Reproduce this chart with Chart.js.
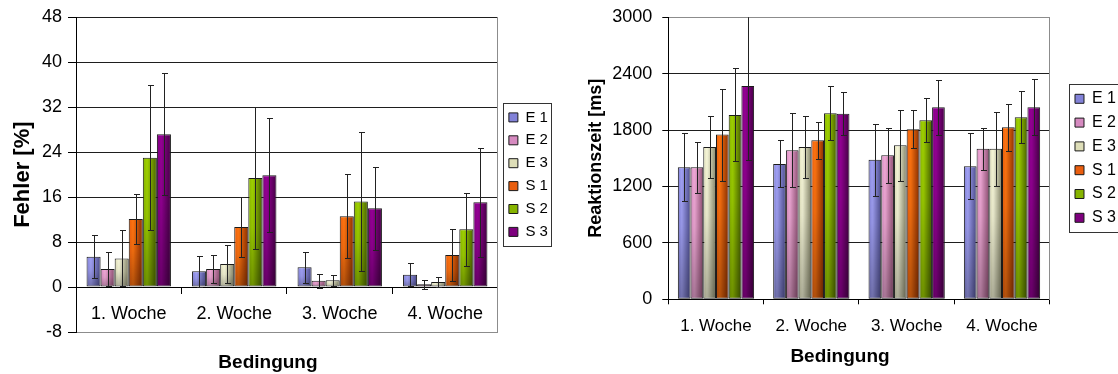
<!DOCTYPE html>
<html>
<head>
<meta charset="utf-8">
<script src="https://cdn.jsdelivr.net/npm/chart.js@4.4.1/dist/chart.umd.min.js"></script>
<style>
  html, body { margin: 0; padding: 0; background: #fff; width: 1118px; height: 374px; overflow: hidden; }
  .panel { position: absolute; top: 0; height: 374px; width: 560px; }
  #panelFehler { left: 0; }
  #panelZeit { left: 558px; }
</style>
</head>
<body>
<div class="panel" id="panelFehler"><canvas id="fehler" width="560" height="374"></canvas></div>
<div class="panel" id="panelZeit"><canvas id="zeit" width="560" height="374"></canvas></div>
<script>
// ---- data ----------------------------------------------------------------
const weeks = ['1. Woche', '2. Woche', '3. Woche', '4. Woche'];
const groups = ['E 1', 'E 2', 'E 3', 'S 1', 'S 2', 'S 3'];

// error rate [%] per group, mean and standard deviation
const fehlerE1 = [5.4, 2.8, 3.5, 2.2];
const fehlerE2 = [3.2, 3.2, 1.1, 0.5];
const fehlerE3 = [5.1, 4.1, 1.2, 0.9];
const fehlerS1 = [12.1, 10.7, 12.6, 5.7];
const fehlerS2 = [23.0, 19.4, 15.2, 10.3];
const fehlerS3 = [27.2, 19.9, 14.0, 15.1];
const fehlerSdE1 = [3.8, 2.8, 2.7, 2.0];
const fehlerSdE2 = [3.1, 2.5, 1.2, 0.8];
const fehlerSdE3 = [5.0, 3.4, 1.0, 0.9];
const fehlerSdS1 = [4.4, 5.3, 7.5, 4.6];
const fehlerSdS2 = [12.9, 12.6, 12.4, 6.5];
const fehlerSdS3 = [10.9, 10.1, 7.4, 9.7];
const fehlerTicks = [-8, 0, 8, 16, 24, 32, 40, 48];

// reaction time [ms] per group, mean and standard deviation
const zeitE1 = [1404, 1440, 1485, 1415];
const zeitE2 = [1404, 1585, 1532, 1602];
const zeitE3 = [1621, 1621, 1638, 1602];
const zeitS1 = [1752, 1691, 1809, 1830];
const zeitS2 = [1961, 1979, 1904, 1936];
const zeitS3 = [2270, 1974, 2043, 2043];
const zeitSdE1 = [362, 250, 381, 351];
const zeitSdE2 = [272, 392, 291, 224];
const zeitSdE3 = [333, 333, 376, 392];
const zeitSdS1 = [490, 200, 202, 250];
const zeitSdS2 = [495, 287, 234, 275];
const zeitSdS3 = [788, 231, 293, 300];
const zeitTicks = [0, 600, 1200, 1800, 2400, 3000];

// ---- styling ---------------------------------------------------------------
// [mid, light, dark] shade per group
const shades = [
  ['#8282d8', '#a2a2f6', '#4c4c8c'],
  ['#d68ac0', '#f2aad8', '#8e4e72'],
  ['#dedeb8', '#f8f8da', '#86866a'],
  ['#ea5e0e', '#ff7410', '#8a2e00'],
  ['#86b400', '#a0d200', '#486200'],
  ['#7e007e', '#960096', '#440044']
];
const CAT_PCT = 0.8;
const FONT = '"Liberation Sans", Arial, Helvetica, sans-serif';
Chart.defaults.font.family = FONT;
Chart.defaults.color = '#000';

// shaded fill: light-to-dark across the bar, darkening towards its base
function barFill(idx) {
  const s = shades[idx];
  return (c) => {
    if (c.type !== 'data') return s[0];
    const xs = c.chart.scales.x, ys = c.chart.scales.y;
    if (!xs || !ys) return s[0];
    const n = c.chart.data.datasets.length;
    const cat = xs.getPixelForValue(1) - xs.getPixelForValue(0);
    const w = cat * CAT_PCT / n;
    const cx = xs.getPixelForValue(c.dataIndex) + (c.datasetIndex - (n - 1) / 2) * w;
    const yv = ys.getPixelForValue(c.raw), yb = ys.getPixelForValue(0);
    if (![cx, w, yv, yb].every(isFinite) || w <= 0) return s[0];
    const top = Math.min(yv, yb), h = Math.max(Math.abs(yb - yv), 1);
    const off = document.createElement('canvas');
    off.width = Math.ceil(w) + 4;
    off.height = Math.ceil(h) + 4;
    const o = off.getContext('2d');
    const gh = o.createLinearGradient(2, 0, 2 + w, 0);
    gh.addColorStop(0, s[0]);
    gh.addColorStop(0.3, s[1]);
    gh.addColorStop(1, s[2]);
    o.fillStyle = gh;
    o.fillRect(0, 0, off.width, off.height);
    const gv = o.createLinearGradient(0, 2, 0, 2 + h);
    gv.addColorStop(0, 'rgba(0,0,0,0)');
    gv.addColorStop(0.45, 'rgba(0,0,0,0.06)');
    gv.addColorStop(1, 'rgba(0,0,0,0.3)');
    o.fillStyle = gv;
    o.fillRect(0, 0, off.width, off.height);
    const pat = c.chart.ctx.createPattern(off, 'no-repeat');
    pat.setTransform(new DOMMatrix([1, 0, 0, 1, cx - w / 2 - 2, top - 2]));
    return pat;
  };
}

function makeDatasets(means, sds) {
  return groups.map((name, i) => ({
    label: name,
    data: means[i],
    errors: sds[i],
    backgroundColor: barFill(i),
    borderColor: '#1a1a1a',
    borderWidth: 1,
    borderSkipped: false,
    categoryPercentage: CAT_PCT,
    barPercentage: 1.0
  }));
}

// legend swatches use the plain group colour
function legendLabels(chart) {
  const items = Chart.defaults.plugins.legend.labels.generateLabels(chart);
  items.forEach((it) => {
    it.fillStyle = shades[it.datasetIndex][0];
    it.strokeStyle = '#1a1a1a';
    it.lineWidth = 1;
  });
  return items;
}

// whiskers of +/- one standard deviation on each bar
const errorBars = {
  id: 'errorBars',
  afterDatasetsDraw(chart) {
    const { ctx, chartArea } = chart;
    const y = chart.scales.y;
    ctx.save();
    ctx.beginPath();
    ctx.rect(chartArea.left, chartArea.top, chartArea.right - chartArea.left, chartArea.bottom - chartArea.top);
    ctx.clip();
    ctx.strokeStyle = '#222';
    ctx.lineWidth = 1;
    chart.data.datasets.forEach((ds, di) => {
      chart.getDatasetMeta(di).data.forEach((bar, i) => {
        const v = ds.data[i], e = ds.errors[i];
        const x = Math.round(bar.x) + 0.5;
        const top = Math.round(y.getPixelForValue(v + e)) + 0.5;
        const bot = Math.round(y.getPixelForValue(v - e)) + 0.5;
        ctx.beginPath();
        ctx.moveTo(x, top); ctx.lineTo(x, bot);
        ctx.moveTo(x - 2.5, top); ctx.lineTo(x + 3.5, top);
        ctx.moveTo(x - 2.5, bot); ctx.lineTo(x + 3.5, bot);
        ctx.stroke();
      });
    });
    ctx.restore();
  }
};

// thin frame around the legend entries
const legendFrame = {
  id: 'legendFrame',
  afterDraw(chart) {
    const hb = chart.legend && chart.legend.legendHitBoxes;
    if (!hb || !hb.length) return;
    const ctx = chart.ctx;
    const left = Math.min(...hb.map(b => b.left));
    const right = Math.max(...hb.map(b => b.left + b.width));
    const top = Math.min(...hb.map(b => b.top));
    const bottom = Math.max(...hb.map(b => b.top + b.height));
    ctx.save();
    ctx.strokeStyle = '#333';
    ctx.lineWidth = 1;
    ctx.strokeRect(Math.round(left - 6) + 0.5, Math.round(top - 6.5) + 0.5,
                   Math.round(right - left + 9), Math.round(bottom - top + 13));
    ctx.restore();
  }
};

function buildChart(canvasId, cfg) {
  const gridDark = '#1e1e1e', frameGrey = '#8c8c8c';
  return new Chart(document.getElementById(canvasId), {
    type: 'bar',
    data: { labels: weeks, datasets: makeDatasets(cfg.means, cfg.sds) },
    plugins: [errorBars, legendFrame],
    options: {
      responsive: false,
      animation: false,
      events: [],
      layout: { padding: cfg.padding },
      plugins: {
        tooltip: { enabled: false },
        title: {
          display: true,
          text: 'Bedingung',
          position: 'bottom',
          color: '#000',
          font: { size: 19, weight: 'bold' },
          padding: cfg.titlePad
        },
        legend: {
          position: 'right',
          align: 'center',
          fullSize: false,
          labels: {
            boxWidth: 9,
            boxHeight: 9,
            padding: cfg.legendGap,
            color: '#000',
            font: { size: cfg.legendFont },
            generateLabels: legendLabels
          }
        }
      },
      scales: {
        x: {
          position: cfg.xPosition,
          offset: true,
          grid: {
            display: true,
            offset: true,
            drawOnChartArea: false,
            drawTicks: true,
            tickLength: cfg.xTickLen,
            tickColor: '#000',
            color: '#000'
          },
          border: { display: true, color: '#000', width: 1 },
          ticks: { padding: cfg.xTickPad, font: { size: cfg.xFont }, color: '#000', maxRotation: 0, autoSkip: false },
          afterFit: (s) => { s.height = cfg.xHeight; }
        },
        y: {
          position: 'left',
          min: cfg.ticks[0],
          max: cfg.ticks[cfg.ticks.length - 1],
          afterBuildTicks: (s) => { s.ticks = cfg.ticks.map(v => ({ value: v })); },
          grid: {
            color: (c) => (c.tick && c.tick.value === cfg.greyValue) ? frameGrey : gridDark,
            tickColor: '#000',
            tickLength: cfg.yTickLen,
            lineWidth: 1
          },
          border: { display: true, color: '#000', width: 1 },
          ticks: {
            padding: cfg.yTickPad,
            font: { size: 18, lineHeight: 0.8 },
            color: '#000',
            callback: (v) => String(v)
          },
          title: {
            display: true,
            text: cfg.yTitle,
            color: '#000',
            font: { size: cfg.yTitleSize, weight: 'bold' },
            padding: { top: cfg.yTitlePad, bottom: 0 }
          },
          afterFit: (s) => { s.width = cfg.yWidth; }
        },
        frame: {
          type: 'linear',
          position: 'right',
          min: 0,
          max: 1,
          grid: { display: true, drawOnChartArea: false, drawTicks: false, color: 'rgba(0,0,0,0)' },
          border: { display: true, color: frameGrey, width: 1 },
          ticks: { display: false },
          afterFit: (s) => { s.width = cfg.frameWidth; }
        }
      }
    }
  });
}

buildChart('fehler', {
  means: [fehlerE1, fehlerE2, fehlerE3, fehlerS1, fehlerS2, fehlerS3],
  sds: [fehlerSdE1, fehlerSdE2, fehlerSdE3, fehlerSdS1, fehlerSdS2, fehlerSdS3],
  ticks: fehlerTicks,
  greyValue: -8,
  padding: { top: 17.3, right: 2.1, bottom: 0, left: -22 },
  titlePad: { top: 19.2, bottom: 0 },
  legendGap: 7.9,
  legendFont: 15,
  xPosition: { y: 0 },
  xTickLen: 6,
  xTickPad: 10,
  xFont: 18,
  xHeight: 0,
  yTickLen: 8,
  yTickPad: 6,
  yTitle: 'Fehler [%]',
  yTitleSize: 22,
  yTitlePad: 31.5,
  yWidth: 98,
  frameWidth: 3
});

buildChart('zeit', {
  means: [zeitE1, zeitE2, zeitE3, zeitS1, zeitS2, zeitS3],
  sds: [zeitSdE1, zeitSdE2, zeitSdE3, zeitSdS1, zeitSdS2, zeitSdS3],
  ticks: zeitTicks,
  greyValue: 3000,
  padding: { top: 17.3, right: -8, bottom: 0, left: -4 },
  titlePad: { top: 0, bottom: 5.6 },
  legendGap: 7.8,
  legendFont: 16,
  xPosition: 'bottom',
  xTickLen: 5,
  xTickPad: 12,
  xFont: 17,
  xHeight: 46.3,
  yTickLen: 6,
  yTickPad: 10,
  yTitle: 'Reaktionszeit [ms]',
  yTitleSize: 18,
  yTitlePad: 31,
  yWidth: 114.3,
  frameWidth: 17.5
});
</script>
</body>
</html>
